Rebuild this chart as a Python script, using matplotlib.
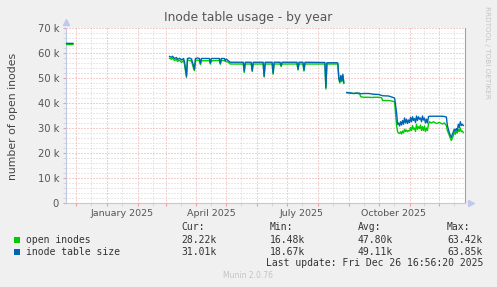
import matplotlib
matplotlib.use("Agg")
import matplotlib.pyplot as plt
import matplotlib.dates as mdates
import pandas as pd
import numpy as np

# ---------------- data (k inodes) ----------------
dates = [
    "2024-11-21", "2024-11-28", None,
    "2025-03-05", "2025-03-07", "2025-03-08", "2025-03-10", "2025-03-12", "2025-03-13",
    "2025-03-15", "2025-03-17", "2025-03-19", "2025-03-20", "2025-03-22", "2025-03-23",
    "2025-03-25", "2025-03-27", "2025-03-29", "2025-03-30", "2025-03-31", "2025-04-02",
    "2025-04-04", "2025-04-05", "2025-04-06", "2025-04-14", "2025-04-15", "2025-04-16",
    "2025-04-24", "2025-04-25", "2025-04-26", "2025-04-29", "2025-04-30", "2025-05-01",
    "2025-05-03", "2025-05-05", "2025-05-18", "2025-05-19", "2025-05-20", "2025-05-26",
    "2025-05-27", "2025-05-28", "2025-06-07", "2025-06-08", "2025-06-09", "2025-06-16",
    "2025-06-17", "2025-06-18", "2025-06-24", "2025-06-25", "2025-06-26", "2025-07-11",
    "2025-07-12", "2025-07-13", "2025-07-17", "2025-07-18", "2025-07-19", "2025-08-07",
    "2025-08-08", "2025-08-09", "2025-08-10", "2025-08-20", "2025-08-21", "2025-08-22",
    "2025-08-23", "2025-08-24", "2025-08-25", "2025-08-26", "2025-08-27", None,
    "2025-08-30", "2025-09-03", "2025-09-06", "2025-09-09", "2025-09-12", "2025-09-13",
    "2025-09-16", "2025-09-21", "2025-09-24", "2025-09-26", "2025-10-01", "2025-10-04",
    "2025-10-05", "2025-10-11", "2025-10-14", "2025-10-17", "2025-10-19", "2025-10-20",
    "2025-10-21", "2025-10-22", "2025-10-23", "2025-10-24", "2025-10-25", "2025-10-26",
    "2025-10-27", "2025-10-28", "2025-10-29", "2025-10-30", "2025-10-31", "2025-11-01",
    "2025-11-02", "2025-11-03", "2025-11-04", "2025-11-05", "2025-11-06", "2025-11-07",
    "2025-11-08", "2025-11-09", "2025-11-10", "2025-11-11", "2025-11-12", "2025-11-13",
    "2025-11-14", "2025-11-15", "2025-11-16", "2025-11-17", "2025-11-18", "2025-11-19",
    "2025-11-20", "2025-11-21", "2025-11-23", "2025-11-25", "2025-11-28", "2025-12-01",
    "2025-12-04", "2025-12-06", "2025-12-08", "2025-12-09", "2025-12-10", "2025-12-11",
    "2025-12-12", "2025-12-13", "2025-12-14", "2025-12-15", "2025-12-16", "2025-12-17",
    "2025-12-18", "2025-12-19", "2025-12-20", "2025-12-21", "2025-12-22", "2025-12-23",
    "2025-12-24", "2025-12-25",
]

table_size = [
    63.85, 63.85, None,
    58.6, 58.3, 58.7, 57.8, 58.2, 57.4,
    57.9, 57.2, 57.8, 56.5, 50.8, 57.8,
    58.0, 57.6, 55.0, 53.5, 57.8, 58.0,
    57.8, 55.8, 57.8, 57.8, 56.0, 57.8,
    57.8, 55.8, 57.8, 57.8, 57.0, 57.6,
    56.9, 56.3, 56.3, 52.8, 56.3, 56.3,
    53.0, 56.3, 56.3, 50.8, 56.3, 56.3,
    52.0, 56.3, 56.3, 55.0, 56.3, 56.3,
    53.6, 56.3, 56.3, 53.2, 56.3, 56.2,
    56.2, 46.2, 56.1, 56.1, 56.0, 50.0,
    48.5, 51.0, 49.0, 51.5, 48.2, None,
    44.2, 44.0, 43.8, 44.0, 43.9, 43.7,
    43.8, 43.8, 43.6, 43.5, 43.4, 43.0,
    42.9, 42.8, 42.4, 42.0, 36.0, 31.5,
    32.0, 30.8, 32.5, 31.2, 33.0, 31.5,
    34.0, 32.0, 33.5, 31.8, 33.2, 32.2,
    34.2, 32.5, 34.5, 33.0, 33.8, 32.2,
    34.8, 33.0, 34.5, 33.5, 34.0, 32.5,
    34.8, 33.2, 34.0, 32.0, 33.5, 32.0,
    34.5, 34.7, 34.7, 34.7, 34.7, 34.7,
    34.7, 34.6, 34.4, 31.0, 29.5, 28.0,
    27.0, 26.2, 27.5, 28.5, 29.5, 28.8,
    29.8, 29.0, 31.5, 30.2, 32.5, 31.0,
    31.5, 31.0,
]

open_inodes = [
    63.42, 63.42, None,
    57.9, 57.5, 58.0, 57.0, 57.5, 56.6,
    57.1, 56.2, 57.0, 55.5, 50.2, 57.2,
    57.0, 56.8, 54.0, 53.0, 57.0, 57.2,
    56.9, 55.4, 56.9, 56.9, 55.6, 56.9,
    57.0, 55.5, 57.0, 57.0, 56.6, 56.6,
    56.3, 55.6, 55.6, 52.2, 55.6, 55.6,
    52.6, 55.6, 55.6, 50.4, 55.6, 55.6,
    51.5, 55.6, 55.6, 54.6, 55.6, 55.6,
    53.2, 55.6, 55.6, 52.8, 55.6, 55.6,
    55.6, 45.6, 55.6, 55.6, 55.5, 49.5,
    48.0, 50.5, 48.5, 50.8, 47.8, None,
    44.1, 43.9, 43.8, 43.9, 43.6, 42.5,
    42.3, 42.3, 42.2, 42.3, 42.3, 42.1,
    41.0, 41.0, 40.8, 40.5, 31.0, 28.5,
    28.0, 27.8, 28.5, 27.6, 28.8, 28.0,
    29.5, 28.6, 29.2, 28.5, 29.0, 28.8,
    30.2, 29.0, 31.0, 29.5, 30.0, 28.6,
    31.5, 29.5, 30.5, 29.8, 31.2, 29.0,
    30.5, 29.0, 30.8, 28.6, 30.0, 29.0,
    31.5, 32.5, 32.0, 32.5, 31.8, 32.2,
    31.6, 32.0, 31.0, 29.0, 28.0, 27.0,
    25.8, 25.0, 26.0, 27.0, 28.5, 27.5,
    28.8, 28.0, 29.5, 28.6, 30.0, 28.5,
    28.8, 28.2,
]

series_names = ["open inodes", "inode table size"]
series_colors = ["#00CC00", "#0066B3"]
stat_headers = ["Cur:", "Min:", "Avg:", "Max:"]
stats_open = ["28.22k", "16.48k", "47.80k", "63.42k"]
stats_size = ["31.01k", "18.67k", "49.11k", "63.85k"]
month_labels = ["January 2025", "April 2025", "July 2025", "October 2025"]
title = "Inode table usage - by year"
ylabel = "number of open inodes"
last_update = "Last update: Fri Dec 26 16:56:20 2025"

# ---------------- figure ----------------
W, H = 497, 287
fig = plt.figure(figsize=(W / 100, H / 100), dpi=100, facecolor="#F0F0F0")
ax = fig.add_axes([66 / W, 1 - 203 / H, (465 - 66) / W, (203 - 28) / H])
ax.set_facecolor("white")

# x positions: gaps (None) get the previous date so the NaN value breaks the line
xs = []
last = None
for d in dates:
    if d is not None:
        last = mdates.date2num(pd.Timestamp(d))
    xs.append(last)
xs = np.array(xs, dtype=float)
ys = np.array([np.nan if v is None else v * 1000 for v in table_size])
yo = np.array([np.nan if v is None else v * 1000 for v in open_inodes])

x0 = mdates.date2num(pd.Timestamp("2024-11-21"))
x1 = mdates.date2num(pd.Timestamp("2025-12-26 16:56"))
ax.set_xlim(x0, x1)
ax.set_ylim(0, 70000)

# grid
ax.xaxis.set_major_locator(mdates.MonthLocator(bymonthday=1))
ax.xaxis.set_minor_locator(mdates.MonthLocator(bymonthday=16))
ax.yaxis.set_major_locator(matplotlib.ticker.MultipleLocator(10000))
ax.yaxis.set_minor_locator(matplotlib.ticker.MultipleLocator(2000))
ax.grid(which="minor", color="#D2D2D2", linestyle=(0, (1, 2)), linewidth=0.72)
ax.grid(which="major", color="#E8A0A0", linestyle=(0, (1, 2)), linewidth=0.72)
ax.set_axisbelow(True)

ax.plot(xs, yo, color=series_colors[0], linewidth=1.0, zorder=3)
ax.plot(xs, ys, color=series_colors[1], linewidth=1.0, zorder=4)

# ticks and labels
ax.xaxis.set_major_formatter(matplotlib.ticker.NullFormatter())
ax.tick_params(axis="x", which="major", length=2, color="#E8A0A0", pad=2)
ax.tick_params(axis="x", which="minor", length=2, color="#D2D2D2")
ax.tick_params(axis="y", which="major", length=2, color="#E8A0A0", labelsize=7.2,
               labelcolor="#555555", pad=3)
ax.tick_params(axis="y", which="minor", length=2, color="#D2D2D2")
ax.set_yticks(np.arange(0, 70001, 10000))
ax.set_yticklabels(["0"] + [f"{v} k" for v in range(10, 71, 10)])

label_dates = ["2025-01-16", "2025-04-16", "2025-07-16", "2025-10-16"]
for lbl, d in zip(month_labels, label_dates):
    ax.text(mdates.date2num(pd.Timestamp(d)), -0.035, lbl, transform=ax.get_xaxis_transform(),
            ha="center", va="top", fontsize=6.8, color="#555555")

ax.spines["top"].set_visible(False)
ax.spines["left"].set_color("#C0C8E8")
ax.spines["bottom"].set_color("#C0C8E8")
ax.spines["right"].set_color("#A0A0A0")
for s in ["left", "bottom", "right"]:
    ax.spines[s].set_linewidth(0.8)

# axis arrows
ax.plot([0], [1.035], marker="^", markersize=4, color="#C0C8F0", transform=ax.transAxes, clip_on=False)
ax.plot([1.015], [0], marker=">", markersize=4, color="#C0C8F0", transform=ax.transAxes, clip_on=False)

fig.text(248 / W, 1 - 18 / H, title, ha="center", va="center", fontsize=8.8, color="#555555")
fig.text(13 / W, 1 - 116 / H, ylabel, rotation=90, ha="center", va="center", fontsize=7.8,
         color="#444444")
fig.text(487 / W, 1 - 52 / H, "RRDTOOL / TOBI OETIKER", rotation=270, ha="center", va="center",
         fontsize=5.2, color="#C4C4C4")

# legend
mono = "DejaVu Sans Mono"
lc = "#333333"
cols = [181, 270, 358, 447]
for h, cx in zip(stat_headers, cols):
    fig.text(cx / W, 1 - 227 / H, h, ha="left", va="center", fontsize=7, family=mono, color=lc)
rows = [(240, stats_open), (252, stats_size)]
for (ry, vals), name, col in zip(rows, series_names, series_colors):
    fig.patches.append(matplotlib.patches.Rectangle((14 / W, 1 - (ry + 3) / H), 6 / W, 6 / H,
                                                    transform=fig.transFigure, facecolor=col,
                                                    edgecolor="none"))
    fig.text(26 / W, 1 - ry / H, name, ha="left", va="center", fontsize=7, family=mono, color=lc)
    for v, cx in zip(vals, cols):
        fig.text(cx / W, 1 - ry / H, v, ha="left", va="center", fontsize=7, family=mono, color=lc)
fig.text(483 / W, 1 - 263 / H, last_update, ha="right", va="center", fontsize=7, family=mono, color=lc)
fig.text(248 / W, 1 - 276 / H, "Munin 2.0.76", ha="center", va="center", fontsize=5.5, color="#C4C4C4")

fig.savefig("out.png", dpi=100, facecolor=fig.get_facecolor())
